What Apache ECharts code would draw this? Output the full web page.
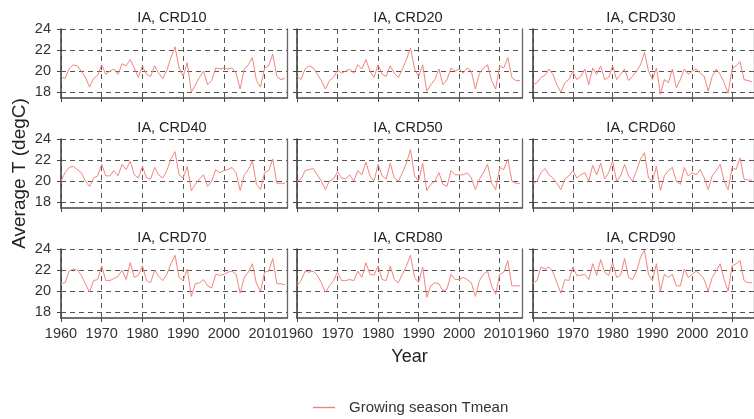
<!DOCTYPE html>
<html>
<head>
<meta charset="utf-8">
<title>Average T by CRD</title>
<script src="https://cdn.jsdelivr.net/npm/echarts@6/dist/echarts.min.js"></script>
<style>
  html, body { margin: 0; padding: 0; background: #fff; }
  #main { width: 754px; height: 419px; }
</style>
</head>
<body>
<div id="main"></div>
<script>
// years on the x axis
var years = [1960,1961,1962,1963,1964,1965,1966,1967,1968,1969,
             1970,1971,1972,1973,1974,1975,1976,1977,1978,1979,
             1980,1981,1982,1983,1984,1985,1986,1987,1988,1989,
             1990,1991,1992,1993,1994,1995,1996,1997,1998,1999,
             2000,2001,2002,2003,2004,2005,2006,2007,2008,2009,
             2010,2011,2012,2013,2014,2015];

// growing season mean temperature (degC)
var crd10 = [19.5,19.3,20.2,20.6,20.5,20.0,19.4,18.5,19.3,19.6,
             20.6,19.7,20.0,20.2,19.7,20.7,20.5,21.1,20.3,19.4,
             20.5,19.7,19.5,20.5,19.8,19.3,20.1,21.3,22.3,20.3,
             19.5,20.8,18.0,18.7,19.4,20.0,18.7,19.1,20.3,20.2,
             20.3,20.2,20.3,19.8,18.3,20.2,20.6,21.3,19.1,18.5,
             20.3,20.5,21.6,19.5,19.2,19.3];
var crd20 = [19.5,19.2,20.2,20.5,20.3,19.7,19.1,18.3,19.1,19.4,
             20.1,19.8,20.0,20.2,19.8,20.6,20.2,21.1,20.0,19.4,
             20.6,19.7,19.5,20.5,19.8,19.4,20.2,21.1,22.2,20.2,
             19.5,20.6,18.1,18.7,19.2,20.2,18.7,19.2,20.3,20.0,
             20.2,19.8,20.3,20.0,18.3,19.8,20.3,20.6,19.1,18.3,
             20.5,20.3,21.3,19.4,19.1,19.1];
var crd30 = [18.7,18.9,19.4,19.6,20.2,19.7,18.7,18.0,18.9,19.2,
             20.0,19.2,19.5,20.2,18.7,20.3,19.7,20.5,19.2,19.4,
             20.5,19.2,19.7,20.2,19.1,19.5,20.0,20.6,21.8,20.0,
             19.2,20.3,17.8,19.2,18.9,20.2,18.4,19.2,20.2,19.7,
             20.0,20.2,19.8,19.5,18.1,19.5,20.2,19.7,18.9,17.9,
             20.2,20.5,20.9,19.2,19.1,19.0];
var crd40 = [20.0,20.8,21.3,21.4,21.1,20.8,20.0,19.5,20.3,20.5,
             21.6,20.5,20.5,21.0,20.5,21.6,21.1,21.9,20.6,20.3,
             21.4,20.3,20.2,21.3,20.6,20.3,21.0,22.1,22.8,20.6,
             20.3,21.4,19.1,19.7,20.2,20.6,19.5,20.0,21.1,20.8,
             21.0,21.1,21.3,20.8,19.1,20.6,21.1,21.9,19.7,19.2,
             20.8,21.0,22.1,19.8,19.8,19.8];
var crd50 = [20.0,20.2,21.0,21.1,21.2,20.6,20.0,19.2,20.0,20.2,
             20.9,20.3,20.2,20.6,20.0,21.0,20.6,21.8,20.5,20.0,
             21.6,20.5,20.2,21.7,20.3,20.0,20.8,21.7,23.0,20.5,
             20.0,21.7,19.1,19.7,20.0,20.8,19.7,19.5,21.0,20.6,
             20.6,20.6,20.8,20.3,19.2,20.2,20.8,21.6,19.8,19.2,
             21.3,21.1,22.1,20.0,19.8,19.8];
var crd60 = [19.7,20.0,20.8,21.2,20.6,20.3,19.8,19.2,20.2,20.5,
             21.0,20.3,20.6,20.8,20.0,21.5,20.6,21.7,20.2,20.8,
             21.9,20.0,20.5,21.6,20.5,20.0,21.0,22.1,22.7,20.3,
             20.0,21.4,19.1,20.5,21.0,21.3,20.0,19.7,21.3,20.5,
             20.8,20.6,21.1,20.3,19.2,20.5,21.0,21.6,20.0,19.2,
             21.3,21.1,22.2,20.2,20.1,20.1];
var crd70 = [20.7,20.8,21.9,22.1,22.0,21.5,20.7,19.9,21.0,21.1,
             22.4,21.0,21.0,21.2,21.4,22.0,21.1,22.7,21.3,21.5,
             22.4,21.0,20.8,22.0,21.4,21.0,21.6,22.6,23.4,21.3,
             21.0,22.1,19.5,20.7,20.8,21.1,20.5,20.3,21.6,21.5,
             21.6,21.8,21.9,21.6,19.8,21.3,21.8,22.6,20.7,20.0,
             21.8,21.9,23.1,20.7,20.7,20.6];
var crd80 = [20.5,21.0,21.9,21.8,21.9,21.5,20.8,19.9,20.5,21.0,
             21.8,21.0,21.0,21.1,21.0,21.9,21.3,22.7,21.6,21.5,
             22.4,21.1,21.0,22.4,21.1,20.8,21.6,22.4,23.4,21.3,
             20.8,22.3,19.4,20.5,20.8,20.7,20.0,20.2,21.6,21.1,
             21.1,21.3,21.1,20.8,19.5,21.0,21.6,21.9,20.5,19.7,
             21.6,21.8,22.9,20.5,20.5,20.5];
var crd90 = [20.8,21.0,22.3,22.1,22.3,21.8,20.8,19.8,21.1,21.0,
             22.3,21.5,21.5,21.6,21.1,22.6,21.5,23.0,21.8,21.5,
             22.7,21.3,21.5,23.1,21.3,21.1,21.9,23.2,23.9,21.6,
             21.0,22.6,20.0,21.6,21.3,21.6,20.5,20.5,22.1,21.3,
             21.6,21.9,21.6,21.1,20.0,21.3,21.9,22.6,21.1,20.0,
             22.4,22.6,22.9,21.0,20.8,20.8];

var panelNames = ['IA, CRD10','IA, CRD20','IA, CRD30',
                  'IA, CRD40','IA, CRD50','IA, CRD60',
                  'IA, CRD70','IA, CRD80','IA, CRD90'];
var panelData = [crd10, crd20, crd30, crd40, crd50, crd60, crd70, crd80, crd90];
var yearTicks = [1960, 1970, 1980, 1990, 2000, 2010];
var tempTicks = [18, 20, 22, 24];

var FONT = 'Liberation Sans, Arial, sans-serif';
var colLeft = [61, 297, 533];
var colWidth = [226, 225, 225];
var titleX = [172, 408, 641];
var rowTop = [29, 139, 249];
var rowH = 69;

var grids = [], xAxes = [], yAxes = [], series = [], titles = [];

for (var i = 0; i < 9; i++) {
  var r = Math.floor(i / 3), c = i % 3;
  grids.push({ left: colLeft[c], top: rowTop[r], width: colWidth[c], height: rowH });

  titles.push({
    text: panelNames[i], left: titleX[c], top: rowTop[r] - 19, textAlign: 'center', padding: 0,
    textStyle: { fontFamily: FONT, fontSize: 14.5, fontWeight: 'normal', color: '#222' }
  });

  xAxes.push({
    type: 'value', gridIndex: i, min: 1960, max: 2015.5,
    axisLine: { show: true, lineStyle: { color: '#444', width: 1.6 } },
    axisTick: { show: true, length: 4, customValues: yearTicks, lineStyle: { color: '#444' } },
    axisLabel: {
      show: r === 2, customValues: yearTicks, margin: 8,
      formatter: function (v) { return String(v); },
      fontFamily: FONT, fontSize: 14.5, color: '#333'
    },
    splitLine: { show: true, lineStyle: { color: '#555', type: [5, 4], width: 1 } },
    name: i === 7 ? 'Year' : '', nameLocation: 'middle', nameGap: 30,
    nameTextStyle: { fontFamily: FONT, fontSize: 18, color: '#222' }
  });

  // left axis with labels and grid lines
  yAxes.push({
    type: 'value', gridIndex: i, min: 17.45, max: 24, position: 'left',
    axisLine: { show: true, lineStyle: { color: '#444', width: 1.6 } },
    axisTick: { show: true, length: 4, customValues: tempTicks, lineStyle: { color: '#444' } },
    axisLabel: {
      show: c === 0, customValues: tempTicks, margin: 10,
      fontFamily: FONT, fontSize: 14.5, color: '#333'
    },
    splitLine: { show: true, lineStyle: { color: '#555', type: [5, 4], width: 1 } },
    name: i === 3 ? 'Average T (degC)' : '', nameLocation: 'middle', nameGap: 32,
    nameTextStyle: { fontFamily: FONT, fontSize: 19, color: '#222' }
  });
  // right border of the panel
  yAxes.push({
    type: 'value', gridIndex: i, min: 17.45, max: 24, position: 'right',
    axisLine: { show: true, lineStyle: { color: '#666', width: 1.3 } },
    axisTick: { show: false }, axisLabel: { show: false }, splitLine: { show: false }
  });

  series.push({
    name: 'Growing season Tmean', type: 'line',
    xAxisIndex: i, yAxisIndex: 2 * i,
    symbol: 'none', showSymbol: false,
    lineStyle: { color: '#f4847c', width: 1 },
    itemStyle: { color: '#f4847c' },
    data: years.map(function (y, k) { return [y, panelData[i][k]]; })
  });
}

var chart = echarts.init(document.getElementById('main'));
chart.setOption({
  animation: false,
  backgroundColor: '#fff',
  title: titles,
  grid: grids,
  xAxis: xAxes,
  yAxis: yAxes,
  legend: {
    show: true,
    data: ['Growing season Tmean'], left: 308, top: 395,
    icon: 'rect', itemWidth: 22, itemHeight: 1.4,
    itemStyle: { color: '#f4847c' },
    textStyle: { fontFamily: FONT, fontSize: 15, color: '#333', padding: [0, 0, 0, 9] }
  },
  series: series
});
</script>
</body>
</html>
